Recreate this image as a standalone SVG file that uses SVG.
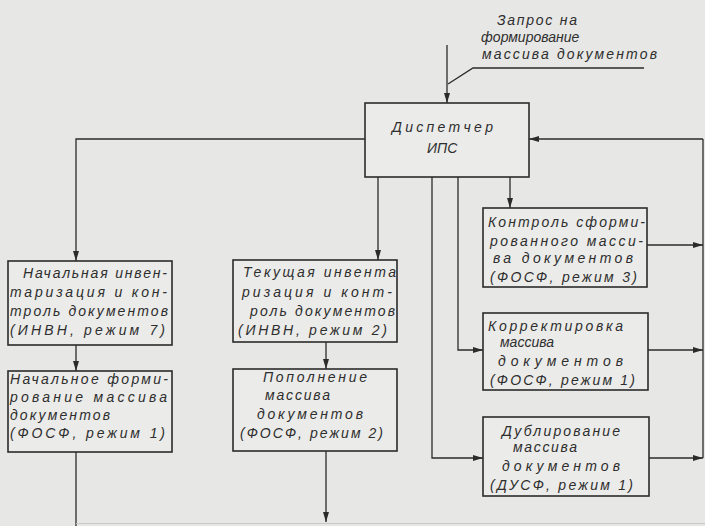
<svg xmlns="http://www.w3.org/2000/svg" width="705" height="526" viewBox="0 0 705 526">
  <defs>
    <marker id="arrow" markerUnits="userSpaceOnUse" markerWidth="10" markerHeight="6" refX="10" refY="3" orient="auto">
      <path d="M0,0 L10,3 L0,6 z" fill="#2b2b2b"/>
    </marker>
    <style>
      .box { fill: #ebebe9; stroke: #2b2b2b; stroke-width: 1.6; }
      .wire { fill: none; stroke: #2b2b2b; stroke-width: 1.3; }
      .arr { marker-end: url(#arrow); }
      text { font-family: "Liberation Sans", Arial, sans-serif; font-style: italic; font-size: 14px; fill: #2e2e2e; }
    </style>
  </defs>

  <rect width="705" height="526" fill="#e7e7e5"/>

  <!-- connectors -->
  <g id="connectors">
    <!-- incoming request -->
    <path class="wire arr" d="M447,45 V103"/>
    <path class="wire" d="M448,84 L473,68 H644"/>
    <!-- dispatcher to the inventory branches -->
    <path class="wire arr" d="M365,139 H76 V261"/>
    <path class="wire arr" d="M378,177 V260"/>
    <!-- dispatcher to the right-hand column -->
    <path class="wire arr" d="M510,177 V208"/>
    <path class="wire arr" d="M458,177 V350 H483"/>
    <path class="wire arr" d="M432,177 V458 H483"/>
    <!-- left column -->
    <path class="wire arr" d="M76,345 V371"/>
    <path class="wire" d="M76,452 V526"/>
    <!-- middle column -->
    <path class="wire arr" d="M326,342 V369"/>
    <path class="wire arr" d="M326,451 V522"/>
    <!-- right column outputs -->
    <path class="wire arr" d="M647,245 H703"/>
    <path class="wire arr" d="M648,350 H703"/>
    <path class="wire arr" d="M649,458 H703"/>
    <!-- return to dispatcher -->
    <path class="wire" d="M703,458 V139"/>
    <path class="wire arr" d="M703,139 H529"/>
    <!-- bottom edge line -->
    <path d="M76,523.5 H705" fill="none" stroke="#c9c9c7" stroke-width="1"/>
  </g>

  <!-- request caption -->
  <g id="request">
    <text x="497" y="25" textLength="80">Запрос на</text>
    <text x="481" y="42" font-size="13">формирование</text>
    <text x="482" y="59" textLength="175">массива документов</text>
  </g>

  <g id="dispatcher">
    <rect class="box" x="365" y="103" width="164" height="74"/>
    <text x="392" y="132" textLength="101">Диспетчер</text>
    <text x="427" y="153">ИПС</text>
  </g>

  <g id="initial-inventory">
    <rect class="box" x="8" y="261" width="164" height="84"/>
    <text x="23" y="278" textLength="144">Начальная инвен-</text>
    <text x="10" y="297" textLength="157">таризация и кон-</text>
    <text x="10" y="316" textLength="158">троль документов</text>
    <text x="10" y="335" textLength="155">(ИНВН, режим 7)</text>
  </g>

  <g id="initial-forming">
    <rect class="box" x="8" y="371" width="164" height="81"/>
    <text x="10" y="384" textLength="158">Начальное форми-</text>
    <text x="10" y="402" textLength="157">рование массива</text>
    <text x="10" y="420" textLength="100">документов</text>
    <text x="10" y="438" textLength="155">(ФОСФ, режим 1)</text>
  </g>

  <g id="current-inventory">
    <rect class="box" x="233" y="260" width="164" height="82"/>
    <text x="243" y="277" textLength="153">Текущая инвента</text>
    <text x="242" y="297" textLength="150">ризация  и конт-</text>
    <text x="250" y="316" textLength="145">роль документов</text>
    <text x="238" y="335" textLength="149">(ИНВН, режим 2)</text>
  </g>

  <g id="replenishment">
    <rect class="box" x="233" y="369" width="164" height="82"/>
    <text x="263" y="382" textLength="104">Пополнение</text>
    <text x="265" y="400" textLength="65">массива</text>
    <text x="257" y="419" textLength="106">документов</text>
    <text x="240" y="438" textLength="143">(ФОСФ, режим 2)</text>
  </g>

  <g id="check">
    <rect class="box" x="483" y="208" width="164" height="79"/>
    <text x="488" y="227" textLength="157">Контроль сформи-</text>
    <text x="490" y="246" textLength="153">рованного масси-</text>
    <text x="493" y="263" textLength="140">ва документов</text>
    <text x="490" y="282" textLength="147">(ФОСФ, режим 3)</text>
  </g>

  <g id="correction">
    <rect class="box" x="483" y="313" width="165" height="77"/>
    <text x="488" y="331" textLength="135">Корректировка</text>
    <text x="500" y="347">массива</text>
    <text x="498" y="366" textLength="125">документов</text>
    <text x="490" y="385" textLength="145">(ФОСФ, режим 1)</text>
  </g>

  <g id="duplication">
    <rect class="box" x="483" y="417" width="166" height="79"/>
    <text x="502" y="436" textLength="118">Дублирование</text>
    <text x="513" y="452" textLength="64">массива</text>
    <text x="502" y="471" textLength="118">документов</text>
    <text x="490" y="490" textLength="143">(ДУСФ, режим 1)</text>
  </g>
</svg>
